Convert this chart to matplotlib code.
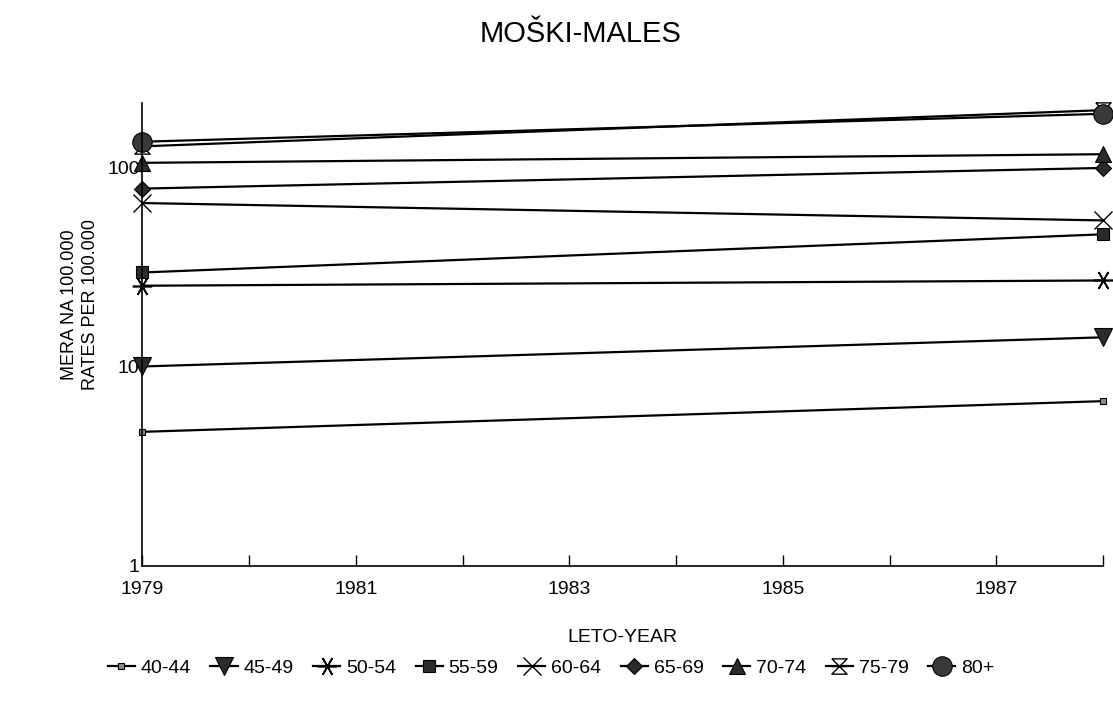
import numpy as np
import matplotlib.pyplot as plt
from matplotlib.path import Path

plt.rcParams['font.family'] = ['Liberation Sans', 'DejaVu Sans']

# Podatki - stopnje na 100.000 (moški)
leta = [1979, 1988]
skupine = ['40-44', '45-49', '50-54', '55-59', '60-64', '65-69', '70-74', '75-79', '80+']
mera_1979 = [4.7, 10.0, 25.4, 29.6, 66, 78, 105, 127, 134]
mera_1988 = [6.7, 14.0, 27.0, 46.0, 54, 99, 116, 193, 185]

x_oznake = [1979, 1981, 1983, 1985, 1987]

# peščena ura za 75-79
pesc_ura = Path([(-1, 1), (1, 1), (-1, -1), (1, -1), (-1, 1), (-1, 0), (1, 0)],
                [Path.MOVETO, Path.LINETO, Path.LINETO, Path.LINETO, Path.LINETO,
                 Path.MOVETO, Path.LINETO])

temno = '#2b2b2b'
stili = [
    dict(marker='s', ms=5, mfc='#8a8a8a', mec='black', mew=0.8),
    dict(marker='v', ms=13, mfc=temno, mec='black', mew=0.8),
    dict(marker=(6, 2, 90), ms=14, mec='black', mew=1.2),
    dict(marker='s', ms=9, mfc=temno, mec='black', mew=0.8),
    dict(marker='x', ms=13, mec='black', mew=1.0),
    dict(marker='D', ms=8, mfc=temno, mec='black', mew=0.8),
    dict(marker='^', ms=12, mfc=temno, mec='black', mew=0.8),
    dict(marker=pesc_ura, ms=11, mfc='none', mec='black', mew=1.0),
    dict(marker='o', ms=14, mfc='#3a3a3a', mec='black', mew=0.8),
]

fig = plt.figure(figsize=(11.13, 7.19), dpi=100)
ax = fig.add_axes([0.128, 0.213, 0.863, 0.644])

for i, sk in enumerate(skupine):
    ax.plot(leta, [mera_1979[i], mera_1988[i]], color='black', lw=1.6,
            label=sk, clip_on=False, **stili[i])

ax.set_yscale('log')
ax.set_ylim(1, 210)
ax.set_xlim(1979, 1988)
ax.set_yticks([1, 10, 100])
ax.set_yticklabels(['1', '10', '100'])
ax.yaxis.set_minor_locator(plt.NullLocator())
ax.tick_params(axis='y', length=0, pad=2, labelsize=14)

ax.set_xticks(range(1979, 1989))
ax.set_xticklabels([str(l) if l in x_oznake else '' for l in range(1979, 1989)])
ax.tick_params(axis='x', direction='in', length=8, width=1, pad=11, labelsize=14)

for s in ['top', 'right']:
    ax.spines[s].set_visible(False)
for s in ['left', 'bottom']:
    ax.spines[s].set_linewidth(1.2)

ax.set_xlabel('LETO-YEAR', fontsize=14, labelpad=22)

fig.text(80 / 1113, 1 - 305 / 719, 'MERA NA 100.000\nRATES PER 100.000',
         rotation=90, ha='center', va='center', fontsize=13,
         multialignment='center', linespacing=1.25)

fig.text(581 / 1113, 1 - 34 / 719, 'MOŠKI-MALES', ha='center', va='center',
         fontsize=21)

fig.legend(loc='center', bbox_to_anchor=(0.495, 1 - 668 / 719), ncol=9,
           frameon=False, fontsize=14, handlelength=1.4, handletextpad=0.3,
           columnspacing=1.0, borderaxespad=0)

fig.savefig('out.png', dpi=100)
